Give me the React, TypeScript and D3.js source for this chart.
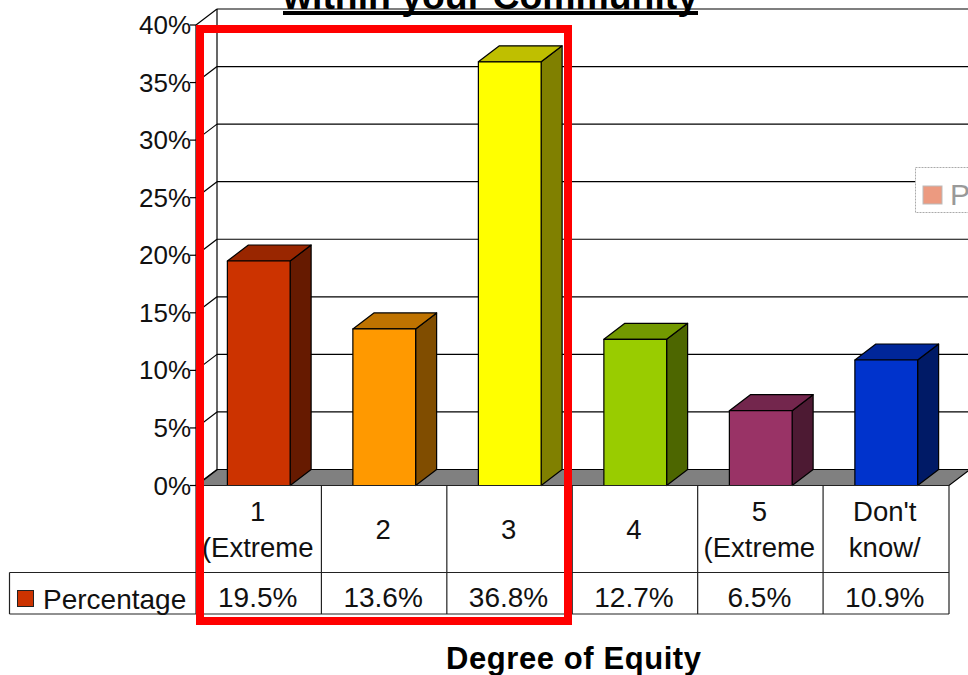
import React from "react";
import * as d3 from "d3";

const categories = ["1 (Extreme", "2", "3", "4", "5 (Extreme", "Don't know/"];
const categoryLines = [["1", "(Extreme"], ["2"], ["3"], ["4"], ["5", "(Extreme"], ["Don't", "know/"]];
const values = [19.5, 13.6, 36.8, 12.7, 6.5, 10.9];
const valueLabels = ["19.5%", "13.6%", "36.8%", "12.7%", "6.5%", "10.9%"];
const frontColors = ["#CC3300", "#FF9900", "#FFFF00", "#99CC00", "#993366", "#0033CC"];
const ticks = [0, 5, 10, 15, 20, 25, 30, 35, 40];
const seriesName = "Percentage";
const axisTitle = "Degree of Equity";
const chartTitle = "within your Community";

const FONT = "'Liberation Sans', Arial, sans-serif";
const DX = 21;
const DY = -16;

const x = d3.scaleBand<string>().domain(categories).range([196, 949]).paddingInner(0.5).paddingOuter(0.25);
const col = d3.scaleBand<string>().domain(categories).range([196.5, 949]);
const y = d3.scaleLinear().domain([0, 40]).range([485.5, 25]);
const darker = (c: string, k: number) => {
  const r = d3.rgb(c);
  return d3.rgb(r.r * k, r.g * k, r.b * k).formatHex();
};
const poly = (pts: [number, number][]) => d3.line()(pts) + "Z";

export default function App() {
  const y0 = y(0);
  return (
    <svg width={968} height={675} viewBox="0 0 968 675"
      style={{ position: "absolute", left: 0, top: 0, background: "#fff" }} fontFamily={FONT}>
      {/* walls and grid */}
      {ticks.map((t) => (
        <g key={t} stroke="#000" strokeWidth={1.2} fill="none">
          {t > 0 && <line x1={196 + DX} x2={968} y1={y(t) + DY} y2={y(t) + DY} />}
          <line x1={196} x2={196 + DX} y1={y(t)} y2={y(t) + DY} />
          <line x1={190} x2={196} y1={y(t)} y2={y(t)} />
          <text x={191} y={y(t) + 9} fontSize={26} fill="#111" stroke="none" textAnchor="end">{t}%</text>
        </g>
      ))}
      <line x1={196} x2={196} y1={y(40)} y2={y0} stroke="#000" strokeWidth={1.2} />
      <line x1={196 + DX} x2={196 + DX} y1={y(40) + DY} y2={y0 + DY} stroke="#000" strokeWidth={1.2} />

      {/* floor */}
      <path d={poly([[196.5, y0], [949, y0], [949 + DX, y0 + DY], [196.5 + DX, y0 + DY]])}
        fill="#808080" stroke="#000" strokeWidth={1.2} />

      {/* title */}
      <text x={283} y={9} fontSize={37} fontWeight={700} textLength={415} lengthAdjust="spacingAndGlyphs" fill="#000">{chartTitle}</text>
      <rect x={283} y={11} width={415} height={4} fill="#000" />

      {/* bars */}
      {categories.map((c, i) => {
        const l = x(c)!;
        const r = l + x.bandwidth();
        const t = y(values[i]);
        return (
          <g key={c} stroke="#000" strokeWidth={1.2} strokeLinejoin="round">
            <path d={poly([[r, t], [r + DX, t + DY], [r + DX, y0 + DY], [r, y0]])} fill={darker(frontColors[i], 0.5)} />
            <path d={poly([[l, t], [l + DX, t + DY], [r + DX, t + DY], [r, t]])} fill={darker(frontColors[i], 0.75)} />
            <rect x={l} y={t} width={r - l} height={y0 - t} fill={frontColors[i]} />
          </g>
        );
      })}

      {/* data table */}
      <g stroke="#222" strokeWidth={1.2} fill="none">
        <line x1={196.5} x2={949} y1={y0} y2={y0} />
        <line x1={9.5} x2={949} y1={572.5} y2={572.5} />
        <line x1={9.5} x2={949} y1={614} y2={614} />
        <line x1={9.5} x2={9.5} y1={572.5} y2={614} />
        {categories.map((c) => (
          <line key={c} x1={col(c)! - 0.5} x2={col(c)! - 0.5} y1={y0} y2={614} />
        ))}
        <line x1={949} x2={949} y1={y0} y2={614} />
      </g>
      {categories.map((c, i) => {
        const cx = col(c)! + col.bandwidth() / 2;
        const lines = categoryLines[i];
        return (
          <g key={c} fontSize={27.5} fill="#111" textAnchor="middle">
            {lines.map((s, j) => (
              <text key={j} x={cx - 1.5} y={lines.length === 1 ? 539 : 521 + j * 36}>{s}</text>
            ))}
            <text x={cx - 1.5} y={607} fontSize={28}>{valueLabels[i]}</text>
          </g>
        );
      })}
      <rect x={17.5} y={590.5} width={16} height={16} fill={frontColors[0]} stroke="#222" strokeWidth={1} />
      <text x={43} y={609} fontSize={28} fill="#111">{seriesName}</text>

      {/* axis title */}
      <text x={446} y={669} fontSize={31} fontWeight={700} textLength={255} fill="#000">{axisTitle}</text>

      {/* faded legend fragment */}
      <rect x={915.5} y={167.5} width={60} height={45} fill="#fff" stroke="#aaa" strokeWidth={1} strokeDasharray="2 1" />
      <rect x={923} y={186} width={19} height={18} fill="#EC9A80" stroke="#bbb" strokeWidth={1} />
      <text x={950} y={205} fontSize={30} fill="#999">P</text>

      {/* highlight box */}
      <rect x={200} y={29} width={368} height={592} fill="none" stroke="#FF0000" strokeWidth={8} />
    </svg>
  );
}
